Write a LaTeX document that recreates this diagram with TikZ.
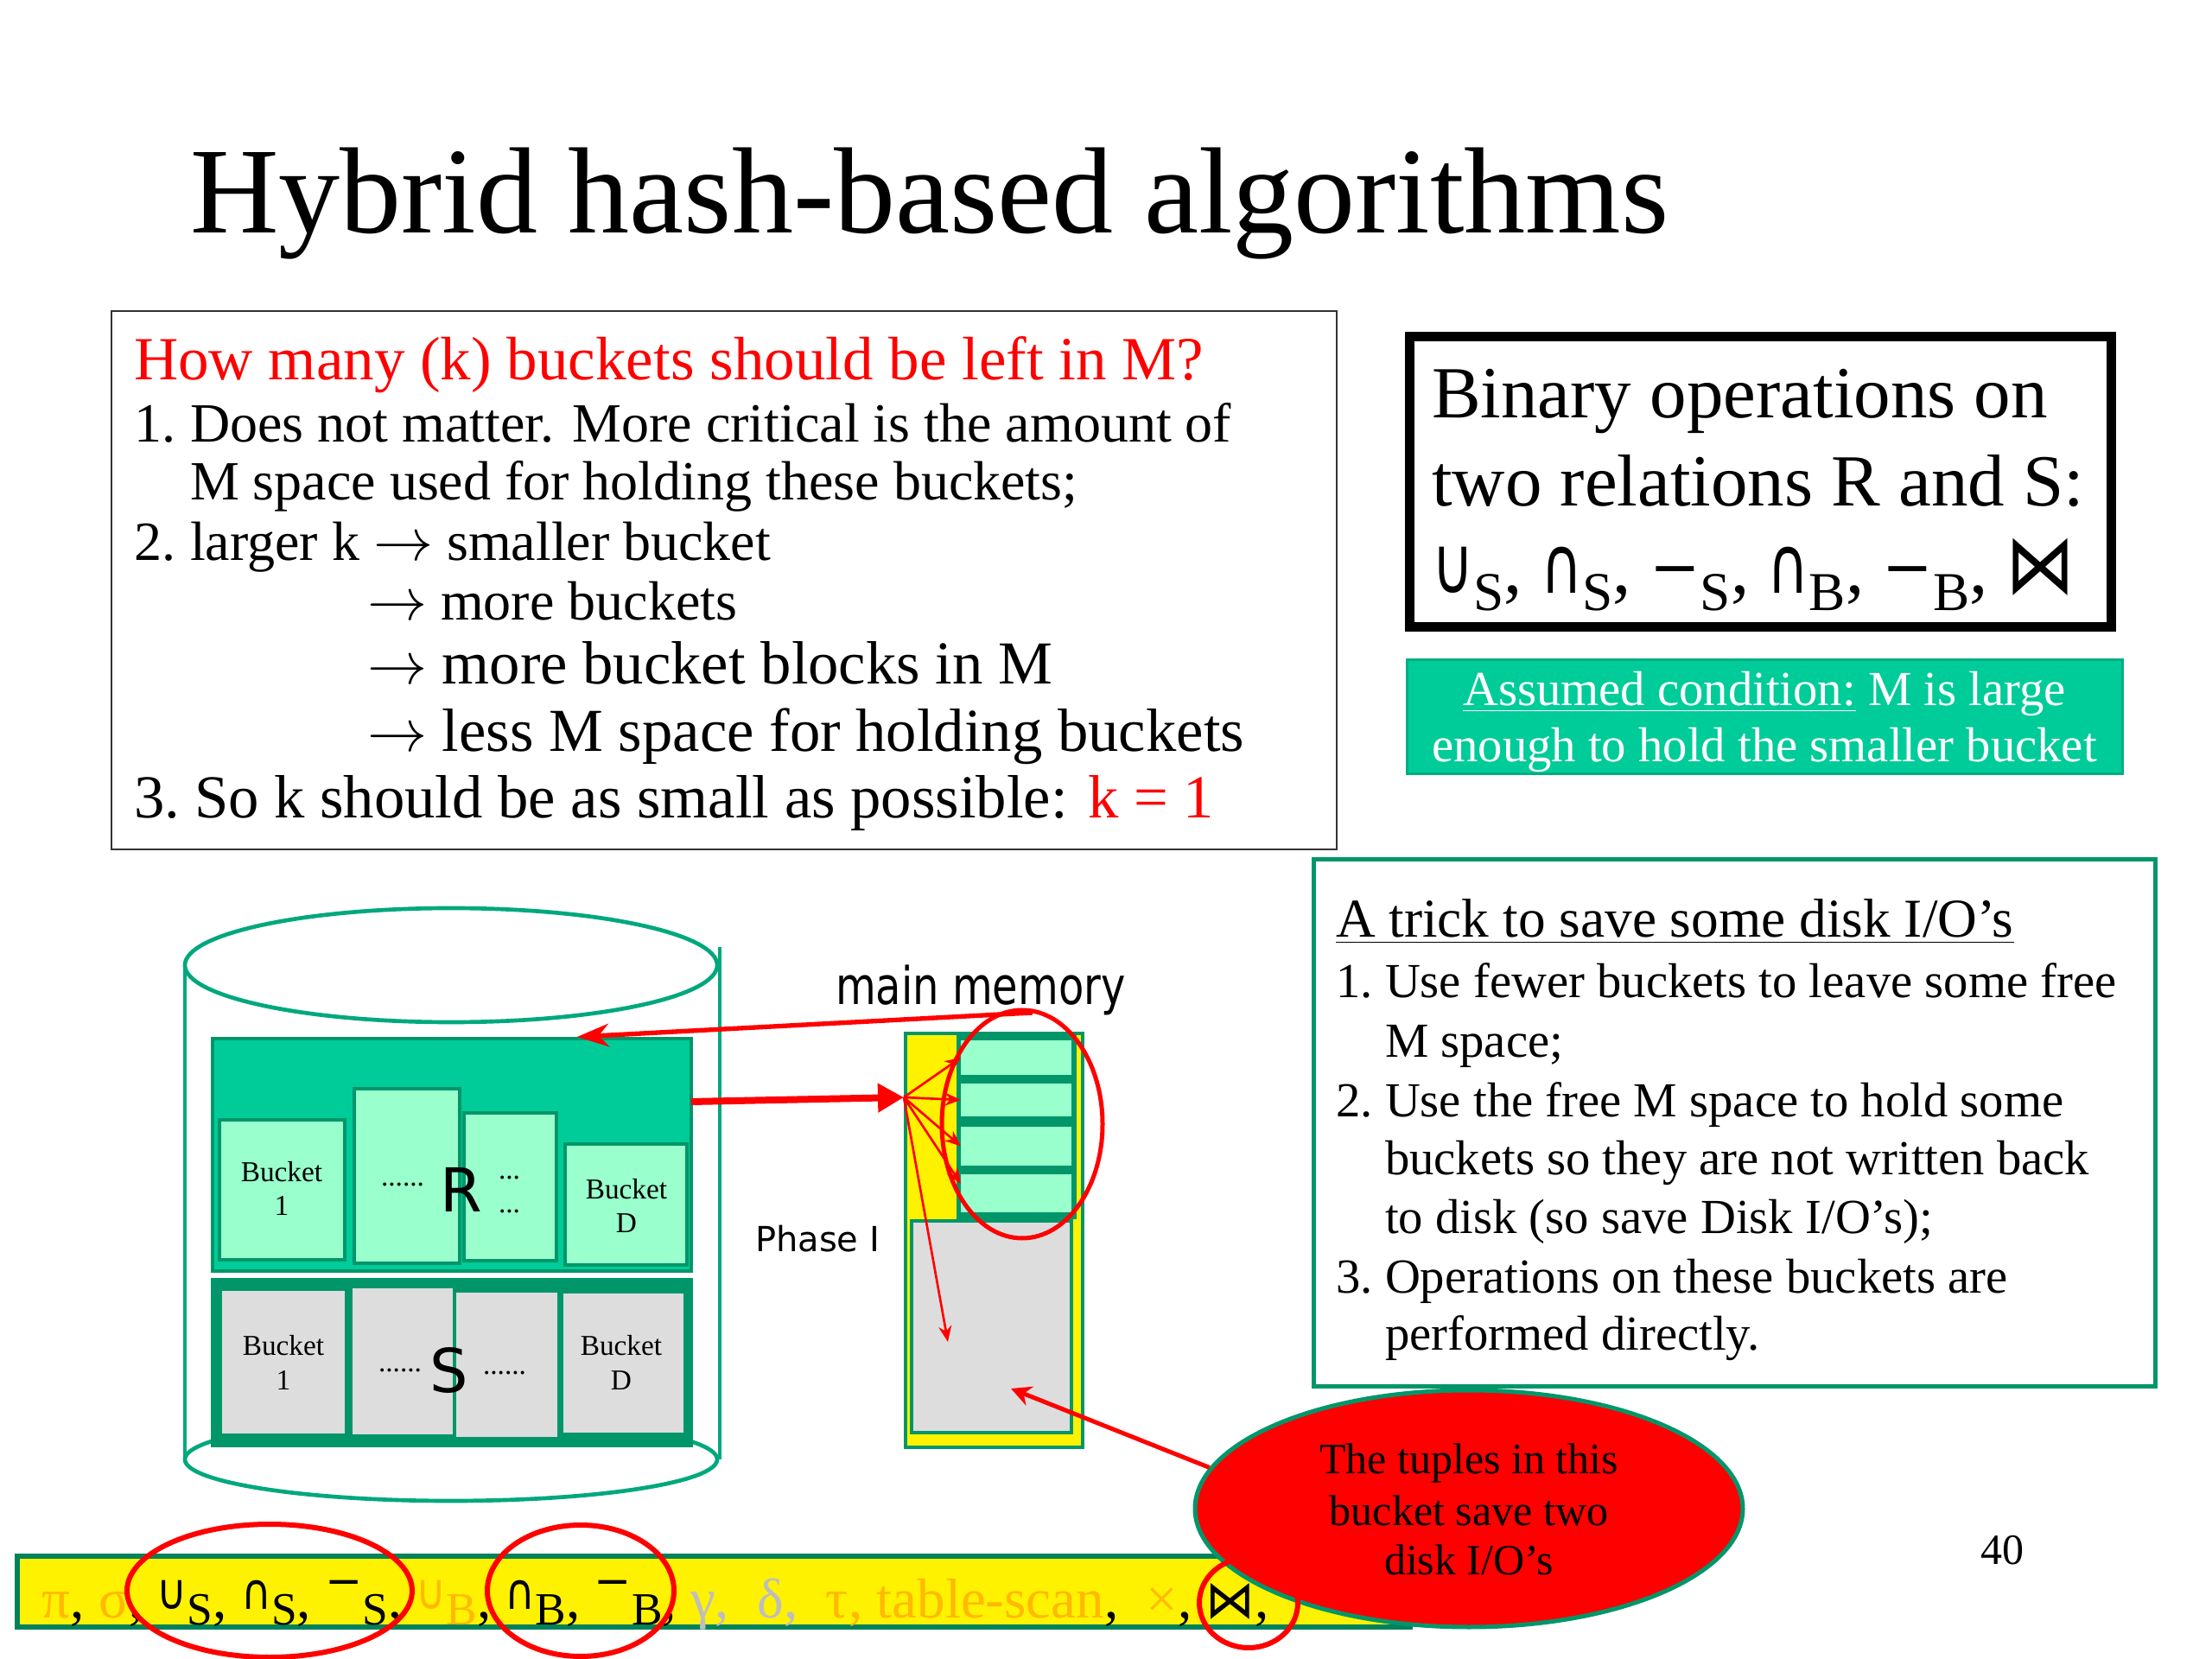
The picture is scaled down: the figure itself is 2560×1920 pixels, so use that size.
\documentclass[tikz,border=0pt]{standalone}
\usepackage{fontspec}
\setmainfont{Liberation Serif}
\newfontfamily\dvs{DejaVu Sans}
\usepackage{graphicx}
\usetikzlibrary{arrows.meta,shapes.geometric,fit,calc}
\definecolor{tealfill}{RGB}{0,204,153}
\definecolor{tealedge}{RGB}{0,175,130}
\definecolor{lightgrn}{RGB}{153,255,204}
\definecolor{darkgrn}{RGB}{0,150,105}
\definecolor{cylgrn}{RGB}{0,168,125}
\definecolor{grayfill}{RGB}{221,221,221}
\definecolor{orng}{RGB}{255,185,0}
\definecolor{ltgray}{RGB}{190,190,190}
\definecolor{framegray}{RGB}{50,50,50}
\definecolor{barborder}{RGB}{0,130,90}
\newcommand\fsz[1]{\fontsize{#1pt}{#1pt}\selectfont}
\newcommand\myarr{$\rightarrow$}
% binary-box symbols
\newcommand\mybcup{\resizebox{14.5pt}{16pt}{\dvs ∪}}
\newcommand\mybcap{\resizebox{14.5pt}{16pt}{\dvs ∩}}
\newcommand\mybminus{\raisebox{2pt}{\dvs\fsz{21}−}}
\newcommand\mybsub[1]{\raisebox{-6pt}{\fsz{19}#1}}
% operator-bar symbols
\newcommand\myocup{\raisebox{3pt}{\resizebox{10.5pt}{10pt}{\dvs ∪}}}
\newcommand\myocap{\raisebox{3pt}{\resizebox{10.5pt}{10pt}{\dvs ∩}}}
\newcommand\myominus{\raisebox{7.5pt}{\dvs\fsz{15.5}−}}
\newcommand\myosub[1]{\raisebox{-2.5pt}{\fsz{16}#1}}
\begin{document}
\begin{tikzpicture}[x=0.3pt,y=-0.3pt,
  txt/.style={anchor=base west,inner sep=0pt,outer sep=0pt},
  ctxt/.style={anchor=base,inner sep=0pt,outer sep=0pt},
  rbox/.style={fit={#1},inner sep=0pt,outer sep=0pt},
  bucketlbl/.style={ctxt,font={\fsz{10}}},
  lbox/.style={fill=lightgrn,draw=darkgrn,line width=1.3pt},
  gbox/.style={fill=grayfill},
  redring/.style={draw=red,line width=1.8pt},
  bigarrow/.style={draw=red,line width=2.4pt,-{Triangle[length=9pt,width=9.6pt]}},
  thinarrow/.style={draw=red,line width=0.8pt,-{Stealth[length=5.5pt,width=4.5pt]}},
  ]
\useasboundingbox[fill=white] (0,0) rectangle (2560,1920);

% title
\node[txt,font={\fsz{42.6}}] (title) at (220,270) {Hybrid hash-based algorithms};

% left question box
\node[rbox={(129,360) (1547,983)},draw=framegray,line width=0.8pt] (qbox) {};
\node[txt,font={\fsz{21.3}},text=red] (q0) at (155,440) {How many (k) buckets should be left in M?};
\node[txt,font={\fsz{19.2}}] (q1n) at (155,512) {1.};
\node[txt,font={\fsz{19.2}}] (q1) at (220,512) {Does not matter. More critical is the amount of};
\node[txt,font={\fsz{19.2}}] (q1b) at (220,579) {M space used for holding these buckets;};
\node[txt,font={\fsz{19.2}}] (q2n) at (155,649) {2.};
\node[txt,font={\fsz{19.2}}] (q2) at (220,649) {larger k \myarr{} smaller bucket};
\node[txt,font={\fsz{19.2}}] (q2b) at (425,718) {\myarr{} more buckets};
\node[txt,font={\fsz{21.2}}] (q2c) at (425,792) {\myarr{} more bucket blocks in M};
\node[txt,font={\fsz{21.2}}] (q2d) at (425,870) {\myarr{} less M space for holding buckets};
\node[txt,font={\fsz{21.2}}] (q3n) at (155,947) {3.};
\node[txt,font={\fsz{21.2}}] (q3) at (225,947) {So k should be as small as possible: {\color{red}k = 1}};

% binary operations box
\node[rbox={(1631,390) (2443,726)},draw=black,line width=3.3pt] (binbox) {};
\node[txt,font={\fsz{25.5}}] (bin1) at (1657,484) {Binary operations on};
\node[txt,font={\fsz{25.5}}] (bin2) at (1657,586) {two relations R and S:};
\node[txt,font={\fsz{25.5}}] (bin3) at (1657,687) {\mybcup\mybsub{S}, \mybcap\mybsub{S}, \mybminus\mybsub{S}, \mybcap\mybsub{B}, \mybminus\mybsub{B}, \resizebox{24pt}{19pt}{\dvs ⋈}};

% assumed condition box
\node[rbox={(1628,764) (2456,896)},fill=tealfill,draw=tealedge,line width=0.9pt] (assume) {};
\node[ctxt,font={\fsz{17}},text=white] (as1) at (2042,817) {\underline{Assumed condition:} M is large};
\node[ctxt,font={\fsz{17}},text=white] (as2) at (2042,882) {enough to hold the smaller bucket};

% trick box
\node[rbox={(1520,995) (2494,1604)},draw=darkgrn,line width=1.5pt] (trick) {};
\node[txt,font={\fsz{19}}] (t0) at (1546,1085) {\underline{A trick to save some disk I/O’s}};
\node[txt,font={\fsz{17}}] (t1n) at (1546,1154) {1.};
\node[txt,font={\fsz{17}}] (t1) at (1603,1154) {Use fewer buckets to leave some free};
\node[txt,font={\fsz{17}}] (t1b) at (1603,1223) {M space;};
\node[txt,font={\fsz{17}}] (t2n) at (1546,1292) {2.};
\node[txt,font={\fsz{17}}] (t2) at (1603,1292) {Use the free M space to hold some};
\node[txt,font={\fsz{17}}] (t2b) at (1603,1359) {buckets so they are not written back};
\node[txt,font={\fsz{17}}] (t2c) at (1603,1427) {to disk (so save Disk I/O’s);};
\node[txt,font={\fsz{17}}] (t3n) at (1546,1496) {3.};
\node[txt,font={\fsz{17}}] (t3) at (1603,1496) {Operations on these buckets are};
\node[txt,font={\fsz{17}}] (t3b) at (1603,1562) {performed directly.};

% cylinder (disk)
\draw[cylgrn,line width=1.4pt] (522,1689) ellipse [x radius=308,y radius=48];
\draw[cylgrn,line width=1.4pt] (214,1117) -- (214,1689);
\draw[cylgrn,line width=1.4pt] (833,1096) -- (833,1689);
\draw[cylgrn,line width=1.4pt,fill=white] (522,1117) ellipse [x radius=308,y radius=66];

% relation R
\node[rbox={(246,1202) (800,1471)},fill=tealfill,draw=darkgrn,line width=1.3pt] (Rbox) {};
\node[rbox={(254,1296) (399,1458)},lbox] (rb1) {};
\node[rbox={(410,1260) (532,1462)},lbox] (rb2) {};
\node[rbox={(537,1288) (644,1459)},lbox] (rb3) {};
\node[rbox={(654,1324) (795,1464)},lbox] (rbD) {};
\node[bucketlbl] (rb1a) at (326,1367) {Bucket};
\node[bucketlbl] (rb1b) at (326,1406) {1};
\node[bucketlbl] (rbDa) at (725,1387) {Bucket};
\node[bucketlbl] (rbDb) at (725,1426) {D};
\node[txt,font={\fsz{10}}] (rdots) at (441,1372) {......};
\node[ctxt,font={\dvs\fsz{21}}] (Rlbl) at (534,1402) {R};
\node[txt,font={\fsz{10}}] (rdots2) at (577,1365) {...};
\node[txt,font={\fsz{10}}] (rdots3) at (577,1403) {...};

% relation S
\node[rbox={(246,1481) (800,1673)},fill=darkgrn,draw=darkgrn,line width=1.3pt] (Sbox) {};
\node[rbox={(257,1494) (399,1659)},gbox] (sb1) {};
\node[rbox={(408,1491) (524,1660)},gbox] (sb2) {};
\node[rbox={(528,1496) (645,1663)},gbox] (sb3) {};
\node[rbox={(652,1497) (791,1658)},gbox] (sbD) {};
\node[bucketlbl] (sb1a) at (328,1568) {Bucket};
\node[bucketlbl] (sb1b) at (328,1608) {1};
\node[bucketlbl] (sbDa) at (719,1568) {Bucket};
\node[bucketlbl] (sbDb) at (719,1608) {D};
\node[txt,font={\fsz{10}}] (sdots) at (438,1587) {......};
\node[ctxt,font={\dvs\fsz{21}}] (Slbl) at (520,1611) {S};
\node[txt,font={\fsz{10}}] (sdots2) at (559,1590) {......};

% main memory
\node[txt,font={\dvs\fsz{18}}] (mmlbl) at (967,1162) {\scalebox{0.8}[1]{main memory}};
\node[txt,font={\dvs\fsz{12}}] (phase) at (874,1448) {Phase I};
\node[rbox={(1048,1196) (1253,1675)},fill=yellow,draw=darkgrn,line width=1.4pt] (mem) {};
\node[rbox={(1055,1413) (1240,1658)},fill=grayfill,draw=darkgrn,line width=1.4pt] (memgray) {};
\node[rbox={(1107,1198) (1246,1411)},fill=darkgrn] (stack) {};
\node[rbox={(1112,1204) (1240,1244)},fill=lightgrn] (mb1) {};
\node[rbox={(1112,1254) (1240,1292)},fill=lightgrn] (mb2) {};
\node[rbox={(1112,1304) (1240,1349)},fill=lightgrn] (mb3) {};
\node[rbox={(1112,1359) (1240,1403)},fill=lightgrn] (mb4) {};

% arrows in phase I
\coordinate (a2s) at (800,1275);
\coordinate (fan) at (1046,1270);
\coordinate (g1) at (1097,1553);
\draw[bigarrow] (a2s) -- (fan);
\draw[thinarrow] (fan) -- (mb1.west);
\draw[thinarrow] (fan) -- (mb2.west);
\draw[thinarrow] (fan) -- (mb3.west);
\draw[thinarrow] (fan) -- ($(mb4.west)!0.5!(mb4.north west)$);
\draw[thinarrow] (fan) -- (g1);
\draw[red,line width=1.5pt] (1183,1301) ellipse [x radius=93,y radius=132];
\coordinate (mmtop) at (1195,1172);
\coordinate (rtop) at (668,1200);
\draw[red,line width=1.6pt,-{Stealth[length=11pt,width=8pt]}] (mmtop) -- (rtop);

% operator bar
\node[rbox={(20,1801) (1632,1883)},fill=yellow,draw=barborder,line width=1.8pt] (bar) {};
\node[txt,font={\fsz{19.5}}] (ops) at (49,1872) {{\color{orng}π}, {\color{orng}σ}, \myocup\myosub{S}, \myocap\myosub{S}, \myominus\myosub{S}, {\color{orng}\myocup\myosub{B}}, \myocap\myosub{B}, \myominus\myosub{B}, {\color{ltgray}γ, \ δ,}\ \ {\color{orng}τ, table-scan}, \ {\color{orng}×}, \resizebox{17pt}{12pt}{\dvs ⋈},};

% tuples ellipse
\node[ellipse,minimum width=190.2pt,minimum height=82.2pt,inner sep=0pt,fill=red,draw=darkgrn,line width=1.5pt] (tuples) at (1700,1746) {};
\node[ctxt,font={\fsz{15}}] (tu1) at (1700,1705) {The tuples in this};
\node[ctxt,font={\fsz{15}}] (tu2) at (1700,1765) {bucket save two};
\node[ctxt,font={\fsz{15}}] (tu3) at (1700,1822) {disk I/O’s};
\coordinate (g2) at (1170,1607);
\draw[red,line width=1.5pt,-{Stealth[length=7pt,width=7pt]}] (tuples.171) -- (g2);

% rings on operator bar
\draw[redring] (312,1841) ellipse [x radius=165,y radius=77];
\draw[redring] (672,1841) ellipse [x radius=108,y radius=76];
\draw[redring] (1445,1855) ellipse [x radius=57,y radius=52];

% page number
\node[txt,font={\fsz{15}}] (pgnum) at (2292,1810) {40};
\end{tikzpicture}
\end{document}
